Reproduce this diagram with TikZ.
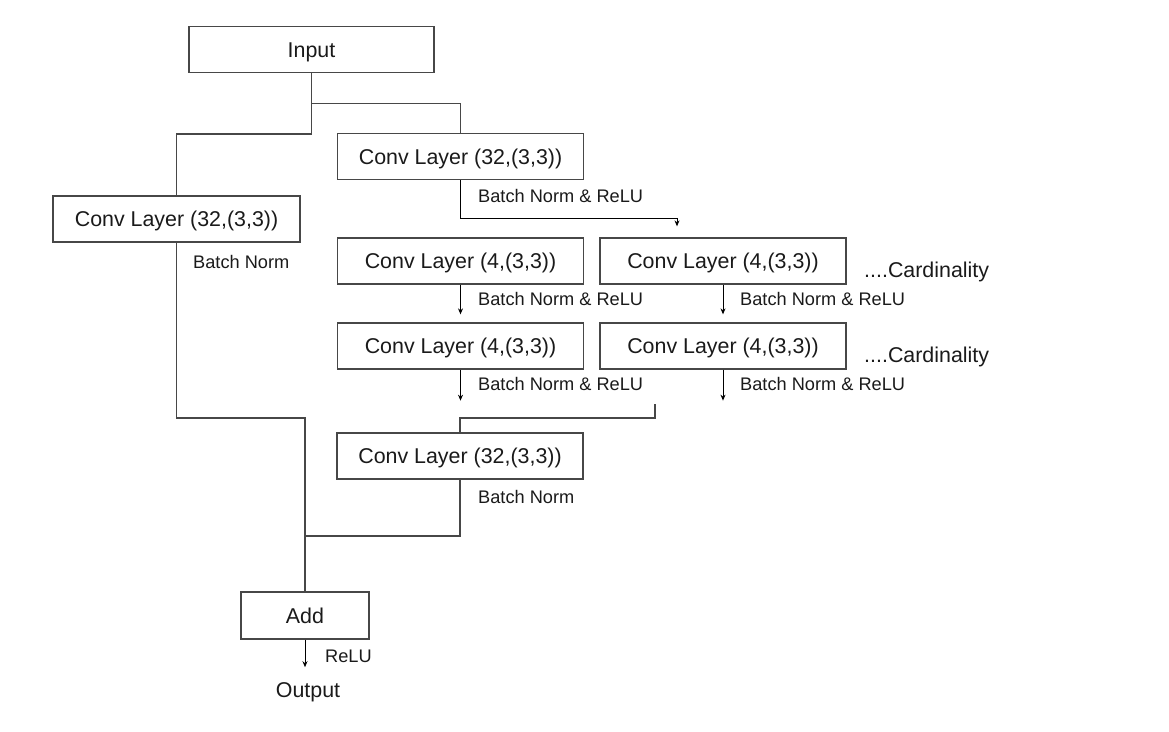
\documentclass[tikz,border=0pt]{standalone}
\usepackage{fontspec}
\setmainfont{Liberation Sans}
\usepackage{xcolor}
\usepackage{tikz}
\usetikzlibrary{calc,arrows.meta,positioning}
\definecolor{linec}{HTML}{474747}
\definecolor{txtc}{HTML}{1A1A1A}
\tikzset{
  ln/.style={linec,line width=1.3pt},
  ar/.style={-{Stealth[length=6pt,width=5pt]},black,line width=1pt},
  bigtxt/.style={text=txtc,text height=19.3pt,text depth=3.9pt,font=\fontsize{21.4}{25}\selectfont},
  box/.style={draw=linec,line width=1.3pt,minimum width=246pt,minimum height=46pt,inner sep=0pt,bigtxt},
  lbl/.style={anchor=west,inner sep=0pt,text=txtc,text height=16.4pt,text depth=3.3pt,font=\fontsize{18.2}{21}\selectfont}
}
\begin{document}
\begin{tikzpicture}[x=1pt,y=-1pt]
\useasboundingbox (0,0) rectangle (1169,731);
\node[box,minimum width=245pt] (in) at (311.5,49.5) {Input};
\node[box,minimum width=247pt] (convA) at (176.5,219) {Conv Layer (32,(3,3))};
\node[box] (convB) at (460.5,156.5) {Conv Layer (32,(3,3))};
\node[box] (g1a) at (460.5,261) {Conv Layer (4,(3,3))};
\node[box] (g1b) at (723,261) {Conv Layer (4,(3,3))};
\node[box] (g2a) at (460.5,346) {Conv Layer (4,(3,3))};
\node[box] (g2b) at (723,346) {Conv Layer (4,(3,3))};
\node[box] (convC) at (460,456) {Conv Layer (32,(3,3))};
\node[box,minimum width=128pt,minimum height=47pt] (add) at (305,615.5) {Add};
\node[inner sep=0pt,bigtxt] (out) at (308,690) {Output};
\coordinate (j1) at (311.5,134);
\coordinate (m1) at (655,404);
\coordinate (m2) at (655,418);
\coordinate (m3) at (305,536);
\draw[ln] (in.south) -- ++(0,30) -| (convB.north);
\draw[ln] (in.south) -- (j1) -| (convA.north);
\draw[ln] (convA.south) -- (convA.south |- m2) -| (add.north);
\draw[ln] (m1) -- (m2) -| (convC.north);
\draw[ln] (convC.south) |- (m3);
\draw[ar,shorten >=11pt] (convB.south) -- ++(0,38) -| ([xshift=-46pt]g1b.north);
\draw[ar,shorten >=8pt] (g1a.south) -- (g2a.north);
\draw[ar,shorten >=8pt] (g1b.south) -- (g2b.north);
\draw[ar] (g2a.south) -- ++(0,31);
\draw[ar] (g2b.south) -- ++(0,31);
\draw[ar,shorten >=11pt] (add.south) -- (add.south |- out.north);
\node[lbl] (bnA) at (193,262) {Batch Norm};
\node[lbl] (bnB) at (478,196) {Batch Norm \& ReLU};
\node[lbl] (bn1a) at (478,299) {Batch Norm \& ReLU};
\node[lbl] (bn1b) at (740,299) {Batch Norm \& ReLU};
\node[lbl] (bn2a) at (478,384) {Batch Norm \& ReLU};
\node[lbl] (bn2b) at (740,384) {Batch Norm \& ReLU};
\node[lbl] (bnC) at (478,497) {Batch Norm};
\node[lbl] (relu) at (325,656) {ReLU};
\node[lbl,bigtxt] (card1) at (864,270) {....Cardinality};
\node[lbl,bigtxt] (card2) at (864,355) {....Cardinality};
\end{tikzpicture}
\end{document}
